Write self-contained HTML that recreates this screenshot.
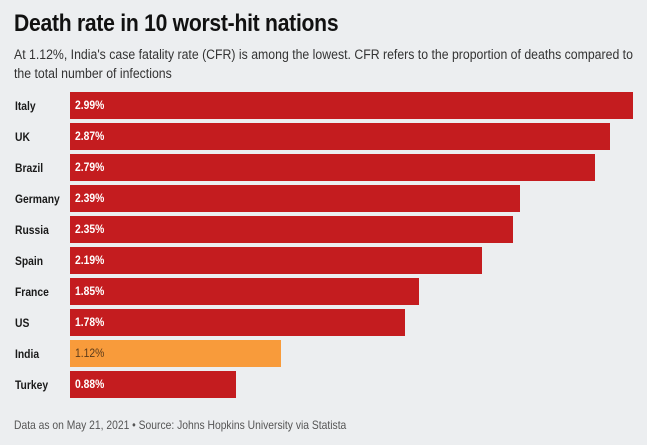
<!DOCTYPE html>
<html><head><style>
body{margin:0;width:647px;height:445px;background:#eceef0;font-family:"Liberation Sans",sans-serif;position:relative;overflow:hidden;color:#1a1a1a}
.x{display:inline-block;transform-origin:0 0;white-space:nowrap}
.t{position:absolute;left:14px;top:10px;font-size:24px;font-weight:bold;letter-spacing:-0.3px;color:#111}
.t .x{transform:scaleX(0.88)}
.s{position:absolute;left:14px;top:45px;font-size:13.5px;line-height:19px;color:#333}
.s .x{transform:scaleX(0.91)}
.r{position:absolute;left:0;height:27px;width:647px}
.n{position:absolute;left:15px;top:7px;font-size:12px;font-weight:bold;color:#1a1a1a}
.n .x,.b .x{transform:scaleX(0.86)}
.b{position:absolute;left:70px;top:0;height:27px;background:#c41c1f;color:#fff;font-size:12px;font-weight:bold;line-height:27px;box-sizing:border-box;padding-left:5px}
.o{background:#f89b3b;color:#5a3a1a;font-weight:normal}
.f{position:absolute;left:14px;top:418px;font-size:12px;color:#555}
.f .x{transform:scaleX(0.86)}
</style></head><body>
<div class="t"><span class="x">Death rate in 10 worst-hit nations</span></div>
<div class="s"><span class="x">At 1.12%, India's case fatality rate (CFR) is among the lowest. CFR refers to the proportion of deaths compared to</span><br><span class="x">the total number of infections</span></div>
<div class="r" style="top:92px"><div class="n"><span class="x">Italy</span></div><div class="b" style="width:563px"><span class="x">2.99%</span></div></div>
<div class="r" style="top:123px"><div class="n"><span class="x">UK</span></div><div class="b" style="width:540px"><span class="x">2.87%</span></div></div>
<div class="r" style="top:154px"><div class="n"><span class="x">Brazil</span></div><div class="b" style="width:525px"><span class="x">2.79%</span></div></div>
<div class="r" style="top:185px"><div class="n"><span class="x">Germany</span></div><div class="b" style="width:450px"><span class="x">2.39%</span></div></div>
<div class="r" style="top:216px"><div class="n"><span class="x">Russia</span></div><div class="b" style="width:443px"><span class="x">2.35%</span></div></div>
<div class="r" style="top:247px"><div class="n"><span class="x">Spain</span></div><div class="b" style="width:412px"><span class="x">2.19%</span></div></div>
<div class="r" style="top:278px"><div class="n"><span class="x">France</span></div><div class="b" style="width:349px"><span class="x">1.85%</span></div></div>
<div class="r" style="top:309px"><div class="n"><span class="x">US</span></div><div class="b" style="width:335px"><span class="x">1.78%</span></div></div>
<div class="r" style="top:340px"><div class="n"><span class="x">India</span></div><div class="b o" style="width:211px"><span class="x">1.12%</span></div></div>
<div class="r" style="top:371px"><div class="n"><span class="x">Turkey</span></div><div class="b" style="width:166px"><span class="x">0.88%</span></div></div>
<div class="f"><span class="x">Data as on May 21, 2021 • Source: Johns Hopkins University via Statista</span></div>
</body></html>
